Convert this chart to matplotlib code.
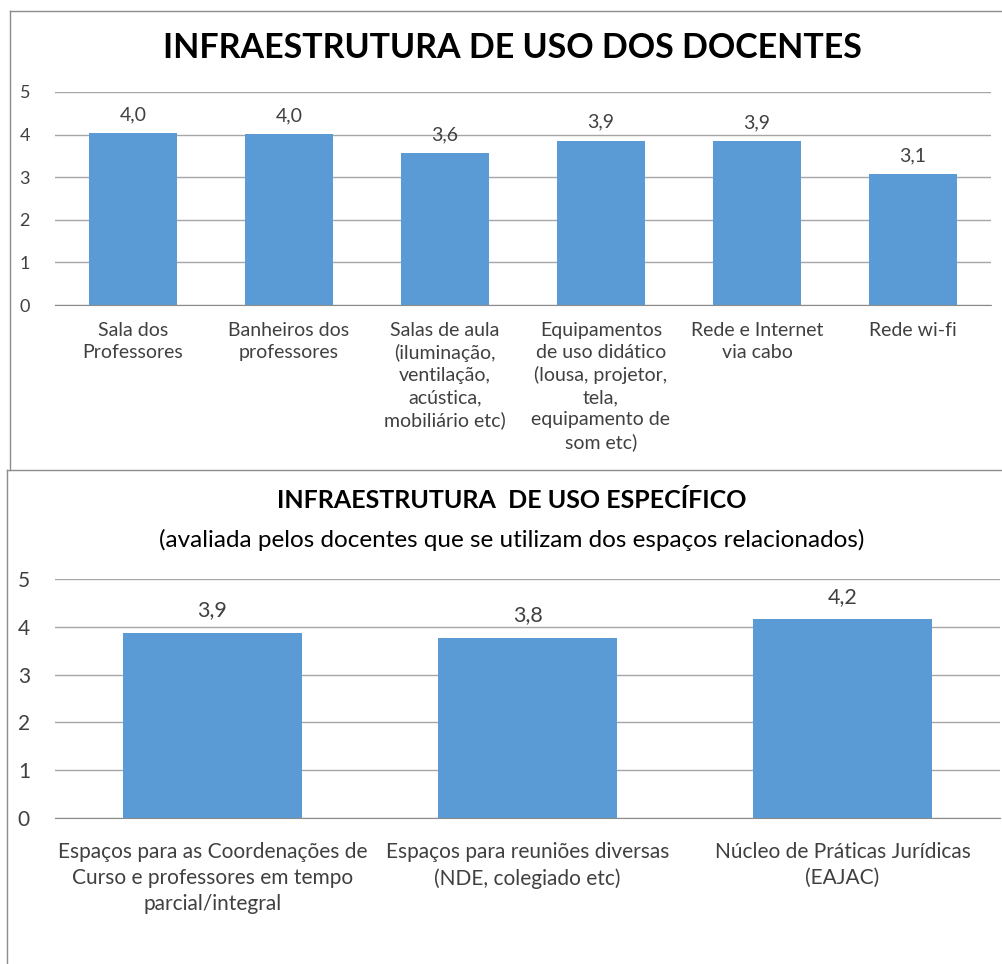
import matplotlib.pyplot as plt
from matplotlib.lines import Line2D

# top chart data
top_title = "INFRAESTRUTURA DE USO DOS DOCENTES"
top_labels = ["Sala dos\nProfessores", "Banheiros dos\nprofessores",
              "Salas de aula\n(iluminação,\nventilação,\nacústica,\nmobiliário etc)",
              "Equipamentos\nde uso didático\n(lousa, projetor,\ntela,\nequipamento de\nsom etc)",
              "Rede e Internet\nvia cabo", "Rede wi-fi"]
top_values = [4.04, 4.01, 3.57, 3.86, 3.85, 3.08]

# bottom chart data
bot_title = "INFRAESTRUTURA  DE USO ESPECÍFICO"
bot_subtitle = "(avaliada pelos docentes que se utilizam dos espaços relacionados)"
bot_labels = ["Espaços para as Coordenações de\nCurso e professores em tempo\nparcial/integral",
              "Espaços para reuniões diversas\n(NDE, colegiado etc)",
              "Núcleo de Práticas Jurídicas\n(EAJAC)"]
bot_values = [3.87, 3.77, 4.16]

plt.rcParams['font.family'] = ['Lato', 'DejaVu Sans']
W, H = 1003, 964
bar_color = '#5B9BD5'
txt = '#404040'

fig = plt.figure(figsize=(W / 100, H / 100), dpi=100)


def px_axes(x0, y0, x1, y1):
    return fig.add_axes([x0 / W, 1 - y1 / H, (x1 - x0) / W, (y1 - y0) / H])


def style(ax, n, fs):
    ax.set_ylim(0, 5)
    ax.set_xlim(-0.5, n - 0.5)
    ax.set_yticks(range(6))
    ax.yaxis.grid(True, color='#a6a6a6', linewidth=1)
    ax.set_axisbelow(True)
    for s in ['top', 'right', 'left']:
        ax.spines[s].set_visible(False)
    ax.spines['bottom'].set_color('#8c8c8c')
    ax.tick_params(axis='both', length=0, colors=txt, labelsize=fs)
    ax.tick_params(axis='y', pad=18)


# top chart
ax1 = px_axes(55, 92, 991, 305)
x1 = range(len(top_values))
ax1.bar(x1, top_values, width=0.57, color=bar_color)
style(ax1, len(top_values), 13)
ax1.set_xticks(list(x1))
ax1.set_xticklabels(top_labels, fontsize=14, color=txt, linespacing=1.36)
ax1.tick_params(axis='x', pad=12)
for i, v in enumerate(top_values):
    ax1.annotate(f"{v:.1f}".replace('.', ','), (i, v), xytext=(0, 7),
                 textcoords='offset points', ha='center', va='bottom',
                 fontsize=14, color=txt)
fig.text(512 / W, 1 - 48 / H, top_title, ha='center', va='center',
         fontsize=24.5, fontweight='bold', color='black')

# bottom chart
ax2 = px_axes(55, 579, 1000, 818)
x2 = range(len(bot_values))
ax2.bar(x2, bot_values, width=0.57, color=bar_color)
style(ax2, len(bot_values), 15)
ax2.set_xticks(list(x2))
ax2.set_xticklabels(bot_labels, fontsize=15, color=txt, linespacing=1.4)
ax2.tick_params(axis='x', pad=17)
for i, v in enumerate(bot_values):
    ax2.annotate(f"{v:.1f}".replace('.', ','), (i, v), xytext=(0, 9),
                 textcoords='offset points', ha='center', va='bottom',
                 fontsize=15.5, color=txt)
fig.text(512 / W, 1 - 500 / H, bot_title, ha='center', va='center',
         fontsize=18, fontweight='bold', color='black')
fig.text(512 / W, 1 - 540 / H, bot_subtitle, ha='center', va='center',
         fontsize=17.5, color='black')

# panel borders
border = dict(color='#8c8c8c', linewidth=1, transform=fig.transFigure)
fig.lines.append(Line2D([10 / W, 10 / W], [1 - 470 / H, 1 - 11 / H], **border))
fig.lines.append(Line2D([10 / W, 1], [1 - 11 / H, 1 - 11 / H], **border))
fig.lines.append(Line2D([7 / W, 7 / W], [0, 1 - 470 / H], **border))
fig.lines.append(Line2D([7 / W, 1], [1 - 470 / H, 1 - 470 / H], **border))

fig.savefig('out.png', dpi=100)
